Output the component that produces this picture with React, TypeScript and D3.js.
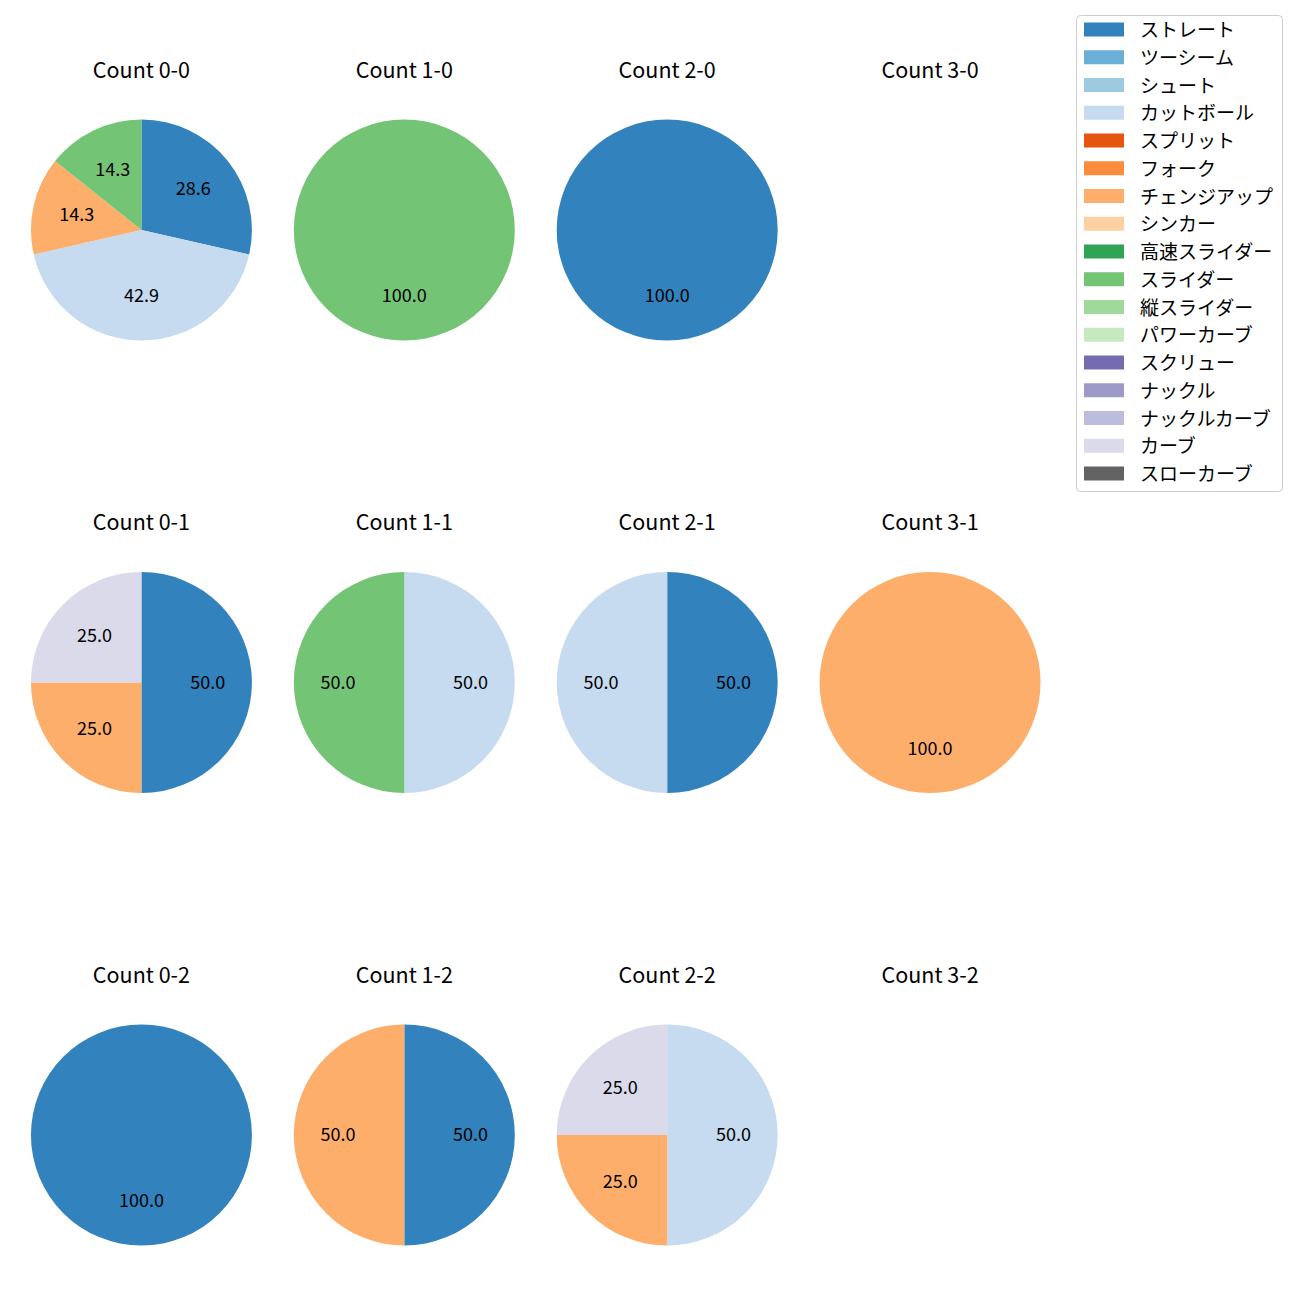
import React from "react";
import * as d3 from "d3";

const pitchTypes = [
  "ストレート", "ツーシーム", "シュート", "カットボール", "スプリット", "フォーク",
  "チェンジアップ", "シンカー", "高速スライダー", "スライダー", "縦スライダー",
  "パワーカーブ", "スクリュー", "ナックル", "ナックルカーブ", "カーブ", "スローカーブ",
];
const pitchColors = [
  "#3182bd", "#6baed6", "#9ecae1", "#c6dbef", "#e6550d", "#fd8d3c",
  "#fdae6b", "#fdd0a2", "#31a354", "#74c476", "#a1d99b", "#c7e9c0",
  "#756bb1", "#9e9ac8", "#bcbddc", "#dadaeb", "#636363",
];

const countLabels = [
  "0-0", "1-0", "2-0", "3-0",
  "0-1", "1-1", "2-1", "3-1",
  "0-2", "1-2", "2-2", "3-2",
];
// pitch counts per count, in pitchTypes order
const countValues: number[][] = [
  [2, 0, 0, 3, 0, 0, 1, 0, 0, 1, 0, 0, 0, 0, 0, 0, 0],
  [0, 0, 0, 0, 0, 0, 0, 0, 0, 1, 0, 0, 0, 0, 0, 0, 0],
  [1, 0, 0, 0, 0, 0, 0, 0, 0, 0, 0, 0, 0, 0, 0, 0, 0],
  [0, 0, 0, 0, 0, 0, 0, 0, 0, 0, 0, 0, 0, 0, 0, 0, 0],
  [2, 0, 0, 0, 0, 0, 1, 0, 0, 0, 0, 0, 0, 0, 0, 1, 0],
  [0, 0, 0, 1, 0, 0, 0, 0, 0, 1, 0, 0, 0, 0, 0, 0, 0],
  [1, 0, 0, 1, 0, 0, 0, 0, 0, 0, 0, 0, 0, 0, 0, 0, 0],
  [0, 0, 0, 0, 0, 0, 1, 0, 0, 0, 0, 0, 0, 0, 0, 0, 0],
  [1, 0, 0, 0, 0, 0, 0, 0, 0, 0, 0, 0, 0, 0, 0, 0, 0],
  [1, 0, 0, 0, 0, 0, 1, 0, 0, 0, 0, 0, 0, 0, 0, 0, 0],
  [0, 0, 0, 2, 0, 0, 1, 0, 0, 0, 0, 0, 0, 0, 0, 1, 0],
  [0, 0, 0, 0, 0, 0, 0, 0, 0, 0, 0, 0, 0, 0, 0, 0, 0],
];

const FONT = "'Noto Sans CJK JP', 'Noto Sans', sans-serif";

export default function App() {
  const W = 1300, H = 1300;
  const colX = d3.scaleBand<number>().domain([0, 1, 2, 3]).range([10, 1061.5]);
  const R = 110.5;
  const pie = d3.pie<{ v: number; i: number }>().sort(null).value((d) => d.v).startAngle(0).endAngle(2 * Math.PI);
  const arc = d3.arc<d3.PieArcDatum<{ v: number; i: number }>>().innerRadius(0).outerRadius(R);
  const labelArc = d3.arc<d3.PieArcDatum<{ v: number; i: number }>>().innerRadius(R * 0.6).outerRadius(R * 0.6);

  return (
    <svg width={W} height={H} style={{ position: "absolute", left: 0, top: 0, background: "#fff" }} fontFamily={FONT}>
      {countLabels.map((lab, k) => {
        const col = k % 4, row = Math.floor(k / 4);
        const cx = colX(col)! + colX.bandwidth() / 2;
        const cy = 230 + row * 452.5;
        const vals = countValues[k];
        const total = d3.sum(vals);
        const data = vals.map((v, i) => ({ v, i })).filter((d) => d.v > 0);
        const arcs = total > 0 ? pie(data) : [];
        return (
          <g key={lab}>
            <text x={cx} y={cy - 162} textAnchor="middle" dominantBaseline="central" fontSize={21.5} fill="#000">
              {`Count ${lab}`}
            </text>
            <g transform={`translate(${cx},${cy})`}>
              {arcs.map((a) => (
                <path key={a.data.i} d={arc(a)!} fill={pitchColors[a.data.i]} />
              ))}
              {arcs.map((a) => {
                const [lx, ly] = labelArc.centroid(a);
                return (
                  <text key={"t" + a.data.i} x={lx} y={ly - 2} textAnchor="middle" dominantBaseline="central" fontSize={18} fill="#000">
                    {((a.data.v / total) * 100).toFixed(1)}
                  </text>
                );
              })}
            </g>
          </g>
        );
      })}
      <g>
        <rect x={1076.5} y={15.5} width={206} height={476} rx={4} fill="#fff" fillOpacity={0.8} stroke="#cccccc" />
        {pitchTypes.map((p, i) => {
          const y = 29.5 + i * 27.75;
          return (
            <g key={p}>
              <rect x={1084} y={y - 7} width={40} height={14} fill={pitchColors[i]} />
              <text x={1140} y={y - 1} dominantBaseline="central" fontSize={19} fill="#000">{p}</text>
            </g>
          );
        })}
      </g>
    </svg>
  );
}
